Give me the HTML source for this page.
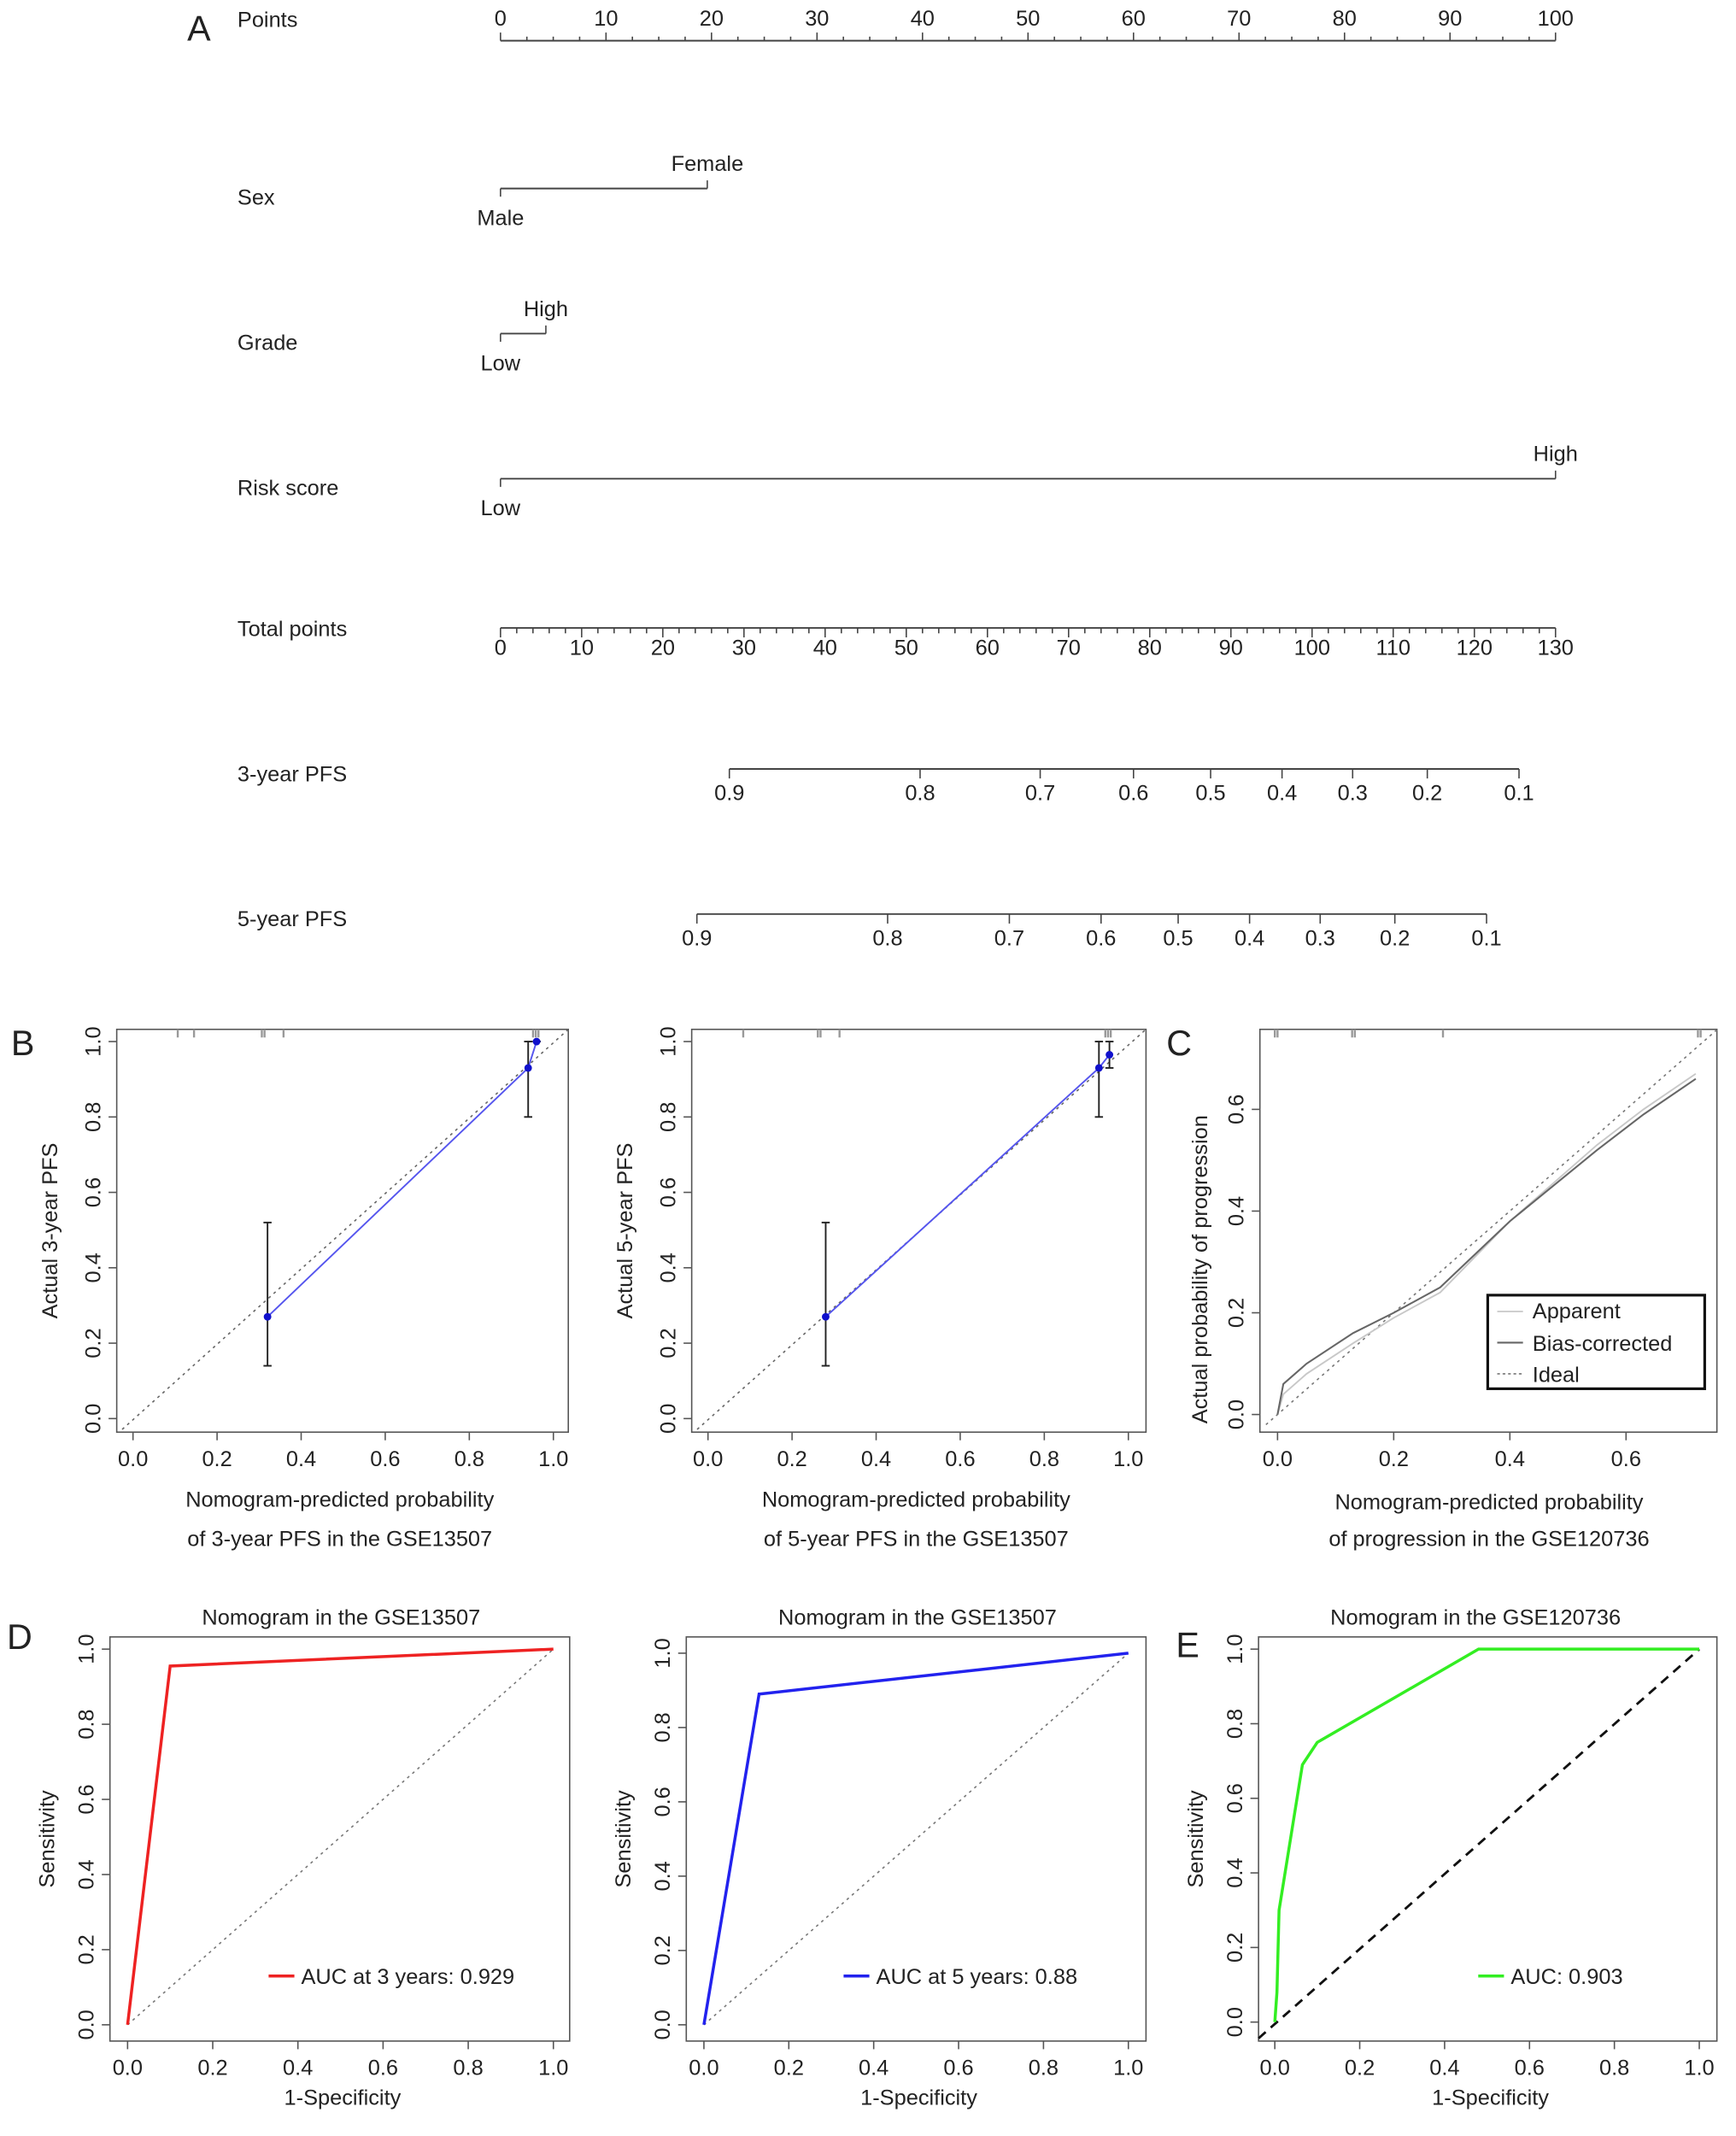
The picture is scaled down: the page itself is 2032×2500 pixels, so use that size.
<!DOCTYPE html>
<html><head><meta charset="utf-8"><style>
html,body{margin:0;padding:0;background:#fff;}
svg{display:block;font-family:"Liberation Sans",sans-serif;}
</style></head><body>
<svg id="fig" width="2032" height="2500" viewBox="0 0 1280 1575" xmlns="http://www.w3.org/2000/svg">
<g id="root"></g>
</svg>
<script>
// ---- Panel A nomogram data ----
const pointsTicks = [0,10,20,30,40,50,60,70,80,90,100];
const totalTicks = [0,10,20,30,40,50,60,70,80,90,100,110,120,130];
const sexLevels = ["Male","Female"];
const sexPoints = [0,19.6];
const gradeLevels = ["Low","High"];
const gradePoints = [0,4.3];
const riskLevels = ["Low","High"];
const riskPoints = [0,100];
const pfs3Labels = ["0.9","0.8","0.7","0.6","0.5","0.4","0.3","0.2","0.1"];
const pfs3Total = [28.2,51.7,66.5,78.0,87.5,96.3,105.0,114.2,125.5];
const pfs5Labels = ["0.9","0.8","0.7","0.6","0.5","0.4","0.3","0.2","0.1"];
const pfs5Total = [24.2,47.7,62.7,74.0,83.5,92.3,101.0,110.2,121.5];
// ---- Panel B calibration ----
const cal3Pred = [0.32,0.94,0.96];
const cal3Obs = [0.27,0.93,1.0];
const cal3Lo = [0.14,0.80,1.0];
const cal3Hi = [0.52,1.0,1.0];
const cal5Pred = [0.28,0.93,0.955];
const cal5Obs = [0.27,0.93,0.965];
const cal5Lo = [0.14,0.80,0.93];
const cal5Hi = [0.52,1.0,1.0];
// ---- Panel C calibration ----
const cPred = [0,0.01,0.05,0.13,0.2,0.28,0.4,0.55,0.63,0.72];
const cBias = [0,0.06,0.10,0.16,0.20,0.25,0.38,0.52,0.59,0.66];
const cApp = [0,0.04,0.08,0.14,0.19,0.24,0.38,0.53,0.60,0.67];
// ---- ROC ----
const roc3Fpr = [0,0.1,1];
const roc3Tpr = [0,0.955,1];
const roc5Fpr = [0,0.13,1];
const roc5Tpr = [0,0.89,1];
const rocEFpr = [0,0.005,0.01,0.065,0.1,0.48,1];
const rocETpr = [0,0.08,0.3,0.69,0.75,1,1];

const FS=16;
const NS="http://www.w3.org/2000/svg";
const root=document.getElementById('root');
function el(tag,attrs,parent){const e=document.createElementNS(NS,tag);for(const k in attrs)e.setAttribute(k,attrs[k]);(parent||root).appendChild(e);return e;}
function txt(x,y,s,size,anchor,parent,rot){const t=el('text',{x:x,y:y,'font-size':size||FS,'text-anchor':anchor||'start',fill:'#222'},parent);if(rot)t.setAttribute('transform','rotate(-90 '+x+' '+y+')');t.textContent=s;return t;}
function line(x1,y1,x2,y2,st,w,parent,dash){const a={x1:x1,y1:y1,x2:x2,y2:y2,stroke:st||'#333','stroke-width':w||1};if(dash)a['stroke-dasharray']=dash;return el('line',a,parent);}

// ===== Panel A =====
const gA=el('g',{});


txt(138,30,'A',26,'start',gA);
const px=v=>369+v*7.78;
const tx=v=>369+v*(778/130);
txt(175,20,'Points',FS,'start',gA);
line(369,30,1147,30,'#444',1.2,gA);
for(let v=0;v<=100;v+=2.5){const maj=v%10===0;line(px(v),30,px(v),maj?24:27,'#444',1,gA);}
pointsTicks.forEach(v=>txt(px(v),19,String(v),FS,'middle',gA));
function varRow(label,y,levels,pts){
  txt(175,y+12,label,FS,'start',gA);
  line(px(pts[0]),y,px(pts[1]),y,'#444',1.2,gA);
  line(px(pts[0]),y,px(pts[0]),y+6,'#444',1,gA);
  line(px(pts[1]),y,px(pts[1]),y-6,'#444',1,gA);
  txt(px(pts[0]),y+27,levels[0],FS,'middle',gA);
  txt(px(pts[1]),y-13,levels[1],FS,'middle',gA);
}
varRow('Sex',139,sexLevels,sexPoints);
varRow('Grade',246,gradeLevels,gradePoints);
varRow('Risk score',353,riskLevels,riskPoints);
txt(175,469,'Total points',FS,'start',gA);
line(369,463,1147,463,'#444',1.2,gA);
for(let v=0;v<=130;v+=2){const maj=v%10===0;line(tx(v),463,tx(v),maj?470:467,'#444',1,gA);}
totalTicks.forEach(v=>txt(tx(v),483,String(v),FS,'middle',gA));
function pfsRow(label,y,labs,tots){
  txt(175,y+9,label,FS,'start',gA);
  line(tx(tots[0]),y,tx(tots[tots.length-1]),y,'#444',1.2,gA);
  tots.forEach((t,i)=>{line(tx(t),y,tx(t),y+7,'#444',1,gA);txt(tx(t),y+23,labs[i],FS,'middle',gA);});
}
pfsRow('3-year PFS',567,pfs3Labels,pfs3Total);
pfsRow('5-year PFS',674,pfs5Labels,pfs5Total);

function frame(name,box,xr,yr,xt,yt){
  const g=el('g',{});
  
  
  const X=v=>xr[0]+(v-xt.min)*(xr[1]-xr[0])/(xt.max-xt.min);
  const Y=v=>yr[0]+(v-yt.min)*(yr[1]-yr[0])/(yt.max-yt.min);
  el('rect',{x:box[0],y:box[1],width:box[2]-box[0],height:box[3]-box[1],fill:'none',stroke:'#555','stroke-width':1},g);
  xt.ticks.forEach(v=>{line(X(v),box[3],X(v),box[3]+6,'#555',1,g);txt(X(v),box[3]+25,v.toFixed(1),FS,'middle',g);});
  yt.ticks.forEach(v=>{line(box[0],Y(v),box[0]-6,Y(v),'#555',1,g);txt(box[0]-12,Y(v),v.toFixed(1),FS,'middle',g,true);});
  return {g,X,Y};
}
function poly(g,xs,ys,X,Y,color,w,dash){
  const pts=xs.map((x,i)=>X(x)+','+Y(ys[i])).join(' ');
  const a={points:pts,fill:'none',stroke:color,'stroke-width':w};if(dash)a['stroke-dasharray']=dash;
  return el('polyline',a,g);
}
const t01={min:0,max:1,ticks:[0,0.2,0.4,0.6,0.8,1.0]};
function rug(g,box,xs){xs.forEach(x=>line(x,box[1],x,box[1]+6,'#999',1.5,g));}

txt(8,778,'B',26,'start');
function calPanel(name,box,xr,pred,obs,lo,hi,ylab,xl2,rugX){
  const f=frame(name,box,xr,[1046,768],t01,t01);
  const g=f.g;
  rug(g,box,rugX);
  line(f.X(0)-8,f.Y(0)+8,box[2],box[1],'#666',1,g,'2,3');
  poly(g,pred,obs,f.X,f.Y,'#5555ee',1.2);
  pred.forEach((p,i)=>{
    line(f.X(p),f.Y(lo[i]),f.X(p),f.Y(hi[i]),'#222',1.2,g);
    line(f.X(p)-3,f.Y(lo[i]),f.X(p)+3,f.Y(lo[i]),'#222',1.2,g);
    line(f.X(p)-3,f.Y(hi[i]),f.X(p)+3,f.Y(hi[i]),'#222',1.2,g);
    const c=el('circle',{cx:f.X(p),cy:f.Y(obs[i]),r:2.8,fill:'#1010cc'},g);
    
    
  });
  const cx=(box[0]+box[2])/2;
  txt(box[0]-44,(box[1]+box[3])/2,ylab,FS,'middle',g,true);
  txt(cx-2,1111,'Nomogram-predicted probability',FS,'middle',g);
  txt(cx-2,1140,xl2,FS,'middle',g);
}
calPanel('calibration-3yr',[86,759,419,1056],[98,408],cal3Pred,cal3Obs,cal3Lo,cal3Hi,'Actual 3-year PFS','of 3-year PFS in the GSE13507',[131,143,193,195,209,393,395,397]);
calPanel('calibration-5yr',[510,759,845,1056],[522,832],cal5Pred,cal5Obs,cal5Lo,cal5Hi,'Actual 5-year PFS','of 5-year PFS in the GSE13507',[548,603,605,619,815,817,819]);

txt(860,778,'C',26,'start');
(function(){
  const box=[929,759,1266,1056];
  const f=frame('calibration-progression',box,[942,1199],[1043,818],{min:0,max:0.6,ticks:[0,0.2,0.4,0.6]},{min:0,max:0.6,ticks:[0,0.2,0.4,0.6]});
  const g=f.g;
  rug(g,box,[940,942,997,999,1064,1252,1254]);
  line(f.X(-0.02),f.Y(-0.02),box[2],f.Y((box[2]-942)/428.3),'#777',1,g,'2,3');
  poly(g,cPred,cApp,f.X,f.Y,'#c8c8c8',1.2);
  poly(g,cPred,cBias,f.X,f.Y,'#666',1.3);
  const lg=el('g',{},g);
  
  
  el('rect',{x:1097,y:955,width:160,height:69,fill:'#fff',stroke:'#111','stroke-width':2},lg);
  line(1104,967,1123,967,'#ccc',1.2,lg);txt(1130,972,'Apparent',FS,'start',lg);
  line(1104,990,1123,990,'#666',1.3,lg);txt(1130,996,'Bias-corrected',FS,'start',lg);
  line(1104,1013,1123,1013,'#777',1,lg,'2,2');txt(1130,1019,'Ideal',FS,'start',lg);
  txt(890,936,'Actual probability of progression',FS,'middle',g,true);
  txt(1098,1113,'Nomogram-predicted probability',FS,'middle',g);
  txt(1098,1140,'of progression in the GSE120736',FS,'middle',g);
})();

txt(5,1216,'D',26,'start');
txt(867,1222,'E',26,'start');
function rocPanel(name,box,xr,yr,fpr,tpr,color,title,leg,legX,diagBlack){
  const f=frame(name,box,xr,yr,t01,t01);
  const g=f.g;
  if(diagBlack) line(f.X(0)-12,f.Y(0)+12,f.X(1),f.Y(1),'#111',1.8,g,'7,5');
  else line(f.X(0),f.Y(0),f.X(1),f.Y(1),'#777',1,g,'2,3');
  const p=poly(g,fpr,tpr,f.X,f.Y,color,2.2);
  
  
  const cx=(box[0]+box[2])/2;
  txt(cx+(diagBlack?-9:1),1198,title,FS,'middle',g);
  line(legX,1457,legX+19,1457,color,2.2,g);
  txt(legX+24,1463,leg,FS,'start',g);
  txt(box[0]-41,(box[1]+box[3])/2,'Sensitivity',FS,'middle',g,true);
  txt(cx+2,1552,'1-Specificity',FS,'middle',g);
}
rocPanel('roc-3yr',[81,1207,420,1505],[94,408],[1493,1216],roc3Fpr,roc3Tpr,'#ee2222','Nomogram in the GSE13507','AUC at 3 years: 0.929',198,false);
rocPanel('roc-5yr',[506,1207,845,1505],[519,832],[1493,1219],roc5Fpr,roc5Tpr,'#2222ee','Nomogram in the GSE13507','AUC at 5 years: 0.88',622,false);
rocPanel('roc-progression',[928,1207,1266,1505],[940,1253],[1491,1216],rocEFpr,rocETpr,'#33ee22','Nomogram in the GSE120736','AUC: 0.903',1090,true);
</script>
</body></html>
